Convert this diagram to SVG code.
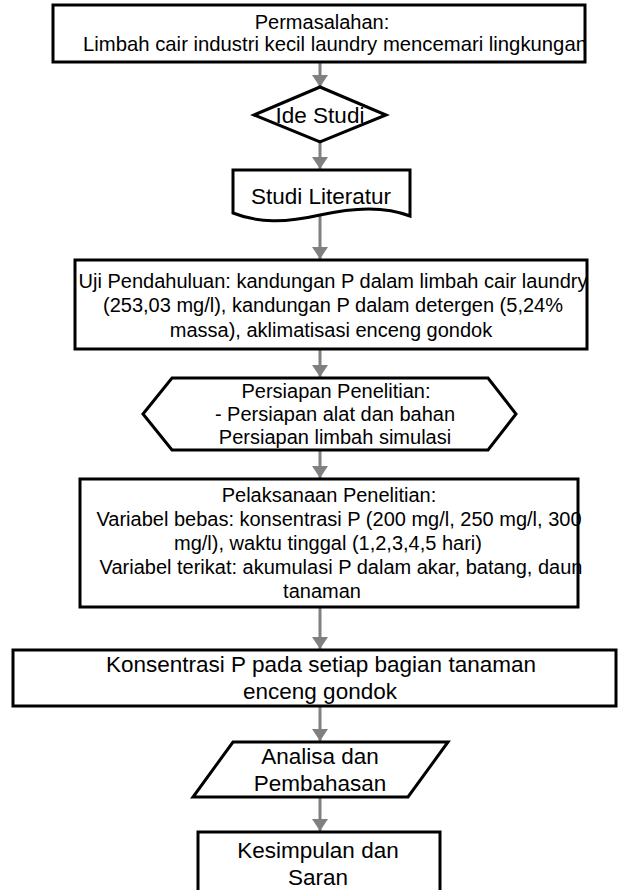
<svg xmlns="http://www.w3.org/2000/svg" width="618" height="890" viewBox="0 0 618 890">
<style>
.s{fill:#fff;stroke:#000;stroke-width:3;stroke-linejoin:miter}
.t{font-family:"Liberation Sans",Arial,sans-serif;fill:#000;text-anchor:middle}
.f20{font-size:20px}
.f22{font-size:22.5px}
.c{stroke:#808080;stroke-width:3;fill:none}
</style>
<defs>
<marker id="ah" viewBox="0 0 12 16" refX="12" refY="8" markerWidth="12" markerHeight="16" markerUnits="userSpaceOnUse" orient="auto">
<path d="M0,0 L12,8 L0,16 Z" fill="#808080"/>
</marker>
</defs>
<rect width="618" height="890" fill="#fff"/>
<g id="connectors">
<line class="c" x1="320" y1="62" x2="320" y2="87" marker-end="url(#ah)"/>
<line class="c" x1="320" y1="142" x2="320" y2="169" marker-end="url(#ah)"/>
<line class="c" x1="320" y1="216" x2="320" y2="259" marker-end="url(#ah)"/>
<line class="c" x1="320" y1="349" x2="320" y2="377" marker-end="url(#ah)"/>
<line class="c" x1="320" y1="450" x2="320" y2="478" marker-end="url(#ah)"/>
<line class="c" x1="320" y1="607" x2="320" y2="649" marker-end="url(#ah)"/>
<line class="c" x1="320" y1="706" x2="320" y2="741" marker-end="url(#ah)"/>
<line class="c" x1="320" y1="797" x2="320" y2="831" marker-end="url(#ah)"/>
</g>
<g id="n1">
<rect class="s" x="53" y="5" width="532" height="57"/>
<text class="t f20" x="322" y="29">Permasalahan:</text>
<text class="t f20" x="335" y="51" style="font-size:20.3px">Limbah cair industri kecil laundry mencemari lingkungan</text>
</g>
<g id="n2">
<polygon class="s" points="320,87 386,115 320,142 254,115"/>
<text class="t f22" x="320" y="123">Ide Studi</text>
</g>
<g id="n3">
<path class="s" d="M233,170 L410,170 L410,216 C385,206 355,207 320,215 C285,223 258,223 233,213 Z"/>
<text class="t f22" x="321" y="204">Studi Literatur</text>
</g>
<g id="n4">
<rect class="s" x="75" y="260" width="512" height="89"/>
<text class="t f20" x="333" y="288">Uji Pendahuluan: kandungan P dalam limbah cair laundry</text>
<text class="t f20" x="333" y="312">(253,03 mg/l), kandungan P dalam detergen (5,24%</text>
<text class="t f20" x="331" y="337">massa), aklimatisasi enceng gondok</text>
</g>
<g id="n5">
<polygon class="s" points="143,414 172,378 488,378 516,414 488,450 172,450"/>
<text class="t f20" x="336" y="398">Persiapan Penelitian:</text>
<text class="t f20" x="335" y="421">- Persiapan alat dan bahan</text>
<text class="t f20" x="335" y="444">Persiapan limbah simulasi</text>
</g>
<g id="n6">
<rect class="s" x="80" y="479" width="498" height="128"/>
<text class="t f20" x="329" y="502">Pelaksanaan Penelitian:</text>
<text class="t f20" x="339" y="526">Variabel bebas: konsentrasi P (200 mg/l, 250 mg/l, 300</text>
<text class="t f20" x="328" y="550">mg/l), waktu tinggal (1,2,3,4,5 hari)</text>
<text class="t f20" x="341" y="574">Variabel terikat: akumulasi P dalam akar, batang, daun</text>
<text class="t f20" x="322" y="598">tanaman</text>
</g>
<g id="n7">
<rect class="s" x="13" y="650" width="603" height="56"/>
<text class="t f22" x="321" y="672">Konsentrasi P pada setiap bagian tanaman</text>
<text class="t f22" x="320" y="699">enceng gondok</text>
</g>
<g id="n8">
<polygon class="s" points="233,742 448,742 408,797 193,797"/>
<text class="t f22" x="320" y="764">Analisa dan</text>
<text class="t f22" x="320" y="791">Pembahasan</text>
</g>
<g id="n9">
<rect class="s" x="198" y="832" width="242" height="62"/>
<text class="t f22" x="318" y="858">Kesimpulan dan</text>
<text class="t f22" x="318" y="885">Saran</text>
</g>
</svg>
